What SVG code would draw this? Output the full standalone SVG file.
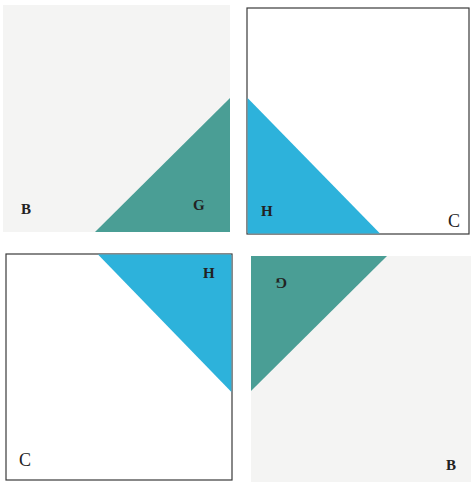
<svg xmlns="http://www.w3.org/2000/svg" width="471" height="482" viewBox="0 0 471 482">
<style>
.gray{fill:#f4f4f3;stroke:none}
.white{fill:#ffffff;stroke:#3a3a3a;stroke-width:1.2}
.teal{fill:#4a9e95}
.blue{fill:#2db2db}
.lbl{font-family:"Liberation Serif",serif;font-size:15px;font-weight:bold;fill:#222}
.lblc{font-family:"Liberation Serif",serif;font-size:18px;fill:#222}
</style>
<rect width="471" height="482" fill="#ffffff"/>
<g id="tl">
<rect class="gray" x="3" y="5" width="227" height="227"/>
<polygon class="teal" points="95,232 230,232 230,98"/>
<text class="lbl" x="21" y="214">B</text>
<text class="lbl" x="193" y="210">G</text>
</g>
<g id="tr">
<rect class="white" x="247" y="8" width="222" height="226"/>
<polygon class="blue" points="247.6,98 247.6,233.4 380,233.4"/>
<text class="lbl" x="261" y="216">H</text>
<text class="lblc" x="448" y="227">C</text>
</g>
<g id="bl">
<rect class="white" x="6" y="254" width="226" height="226"/>
<polygon class="blue" points="98,254.6 231.4,254.6 231.4,392"/>
<text class="lbl" x="203" y="278">H</text>
<text class="lblc" x="19" y="466">C</text>
</g>
<g id="br">
<rect class="gray" x="251" y="256" width="220" height="226"/>
<polygon class="teal" points="251,256 387,256 251,391"/>
<text class="lbl" transform="rotate(180 281 283)" x="275" y="288">G</text>
<text class="lbl" x="446" y="470">B</text>
</g>
</svg>
